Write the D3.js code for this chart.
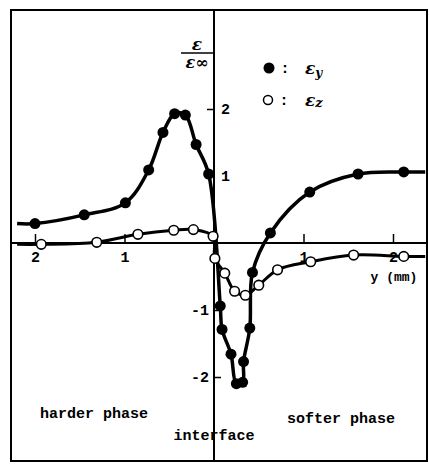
<!DOCTYPE html>
<html>
<head>
<meta charset="utf-8">
<script src="https://cdn.jsdelivr.net/npm/d3@7"></script>
<style>
  body { margin: 0; background: #fff; }
  svg { display: block; }
  .lbl { font-family: "Liberation Mono", "DejaVu Sans Mono", monospace; font-weight: bold; font-size: 15px; fill: #000; }
  .tick text { font-family: "Liberation Mono", monospace; font-weight: bold; font-size: 15px; fill: #000; }
  .eps { font-family: "DejaVu Serif", serif; font-style: italic; font-weight: bold; fill: #000; }
</style>
</head>
<body>
<svg id="chart" width="429" height="464"></svg>
<script>
// distance from interface (mm), negative = harder phase side
var posY = [-2.0, -1.45, -0.99, -0.73, -0.57, -0.44, -0.32, -0.20, -0.06, 0.07, 0.09, 0.19, 0.25, 0.32, 0.33, 0.40, 0.43, 0.63, 1.07, 1.61, 2.12];
var epsY = [0.29, 0.42, 0.60, 1.09, 1.65, 1.93, 1.91, 1.47, 1.03, -0.94, -1.29, -1.66, -2.10, -2.08, -1.77, -1.27, -0.44, 0.15, 0.76, 1.03, 1.06];

var posZ = [-1.93, -1.31, -0.85, -0.45, -0.23, -0.01, 0.01, 0.12, 0.23, 0.35, 0.50, 0.71, 1.08, 1.56, 2.12];
var epsZ = [-0.02, 0.01, 0.13, 0.19, 0.20, 0.10, -0.23, -0.45, -0.72, -0.78, -0.63, -0.40, -0.28, -0.18, -0.20];

var xTicks = [-2, -1, 1, 2];
var yTicksPos = [1, 2];
var yTicksNeg = [-1, -2];
var xRange = [-2.2, 2.36];   // how far the curves run out to either side

var svg = d3.select("#chart");

// scales (0 is the interface)
var x = d3.scaleLinear().domain([-2, 2]).range([35, 393]);
var y = d3.scaleLinear().domain([-2, 2]).range([377, 109]);

// frame
svg.append("rect")
    .attr("x", 11).attr("y", 10)
    .attr("width", 416).attr("height", 451)
    .attr("fill", "none")
    .attr("stroke", "#000")
    .attr("stroke-width", 2);

// horizontal axis, ticks point up, labels below
var gx = svg.append("g")
    .attr("transform", "translate(0," + y(0) + ")")
    .call(d3.axisTop(x).tickValues(xTicks).tickSize(9).tickFormat(function(d) { return Math.abs(d); }));
gx.select(".domain").remove();
gx.append("line")
    .attr("x1", 12).attr("x2", 427)
    .attr("stroke", "#000").attr("stroke-width", 2);
gx.selectAll(".tick line").attr("stroke-width", 1.5);
gx.selectAll(".tick text").attr("y", 19).attr("dy", null);

// vertical axis at the interface
var gy1 = svg.append("g")
    .attr("transform", "translate(" + x(0) + ",0)")
    .call(d3.axisLeft(y).tickValues(yTicksPos).tickSize(7).tickFormat(d3.format("d")));
gy1.select(".domain").remove();
gy1.selectAll(".tick line").attr("stroke-width", 1.5);
gy1.selectAll(".tick text").attr("x", 7).attr("text-anchor", "start");

var gy2 = svg.append("g")
    .attr("transform", "translate(" + x(0) + ",0)")
    .call(d3.axisRight(y).tickValues(yTicksNeg).tickSize(7).tickFormat(function(d) { return "-" + Math.abs(d); }));
gy2.select(".domain").remove();
gy2.selectAll(".tick line").attr("stroke-width", 1.5);
gy2.selectAll(".tick text").attr("x", -5).attr("text-anchor", "end");

svg.append("line")
    .attr("x1", x(0)).attr("x2", x(0))
    .attr("y1", 10).attr("y2", 461)
    .attr("stroke", "#000").attr("stroke-width", 2);

// curves
var line = d3.line()
    .x(function(d) { return x(d[0]); })
    .y(function(d) { return y(d[1]); })
    .curve(d3.curveCatmullRom.alpha(0.5));

function curvePts(px, py) {
  var pts = px.map(function(p, i) { return [p, py[i]]; });
  pts.unshift([xRange[0], py[0]]);
  pts.push([xRange[1], py[py.length - 1]]);
  return pts;
}

svg.append("path")
    .attr("d", line(curvePts(posZ, epsZ)))
    .attr("fill", "none")
    .attr("stroke", "#000")
    .attr("stroke-width", 3);

svg.append("path")
    .attr("d", line(curvePts(posY, epsY)))
    .attr("fill", "none")
    .attr("stroke", "#000")
    .attr("stroke-width", 3.5);

// markers
svg.append("g").selectAll("circle")
    .data(posZ)
  .enter().append("circle")
    .attr("cx", function(d) { return x(d); })
    .attr("cy", function(d, i) { return y(epsZ[i]); })
    .attr("r", 4.8)
    .attr("fill", "#fff")
    .attr("stroke", "#000")
    .attr("stroke-width", 1.6);

svg.append("g").selectAll("circle")
    .data(posY)
  .enter().append("circle")
    .attr("cx", function(d) { return x(d); })
    .attr("cy", function(d, i) { return y(epsY[i]); })
    .attr("r", 5.5)
    .attr("fill", "#000");

// y label: eps / eps_inf
svg.append("text").attr("class", "eps")
    .attr("x", 197).attr("y", 50)
    .attr("text-anchor", "middle")
    .style("font-size", "17px")
    .text("ε");
svg.append("line")
    .attr("x1", 181).attr("x2", 213)
    .attr("y1", 53).attr("y2", 53)
    .attr("stroke", "#000").attr("stroke-width", 1.5);
svg.append("text").attr("class", "eps")
    .attr("x", 197).attr("y", 68)
    .attr("text-anchor", "middle")
    .style("font-size", "16px")
    .text("ε∞");

// legend
svg.append("circle").attr("cx", 269).attr("cy", 68).attr("r", 5.5).attr("fill", "#000");
svg.append("circle").attr("cx", 268).attr("cy", 100).attr("r", 4.5)
    .attr("fill", "#fff").attr("stroke", "#000").attr("stroke-width", 1.5);
svg.append("text").attr("class", "lbl").attr("x", 285).attr("y", 73).attr("text-anchor", "middle").text(":");
svg.append("text").attr("class", "lbl").attr("x", 284).attr("y", 105).attr("text-anchor", "middle").text(":");

var ly = svg.append("text").attr("class", "eps").attr("x", 305).attr("y", 74).style("font-size", "17px");
ly.append("tspan").text("ε");
ly.append("tspan").attr("dy", 3).style("font-size", "12px").text("y");

var lz = svg.append("text").attr("class", "eps").attr("x", 305).attr("y", 106).style("font-size", "17px");
lz.append("tspan").text("ε");
lz.append("tspan").attr("dy", 1).style("font-size", "13px").text("z");

// annotations
svg.append("text").attr("class", "lbl").attr("x", 394).attr("y", 281).attr("text-anchor", "middle")
    .style("font-size", "13px").text("y (mm)");
svg.append("text").attr("class", "lbl").attr("x", 40).attr("y", 418).text("harder phase");
svg.append("text").attr("class", "lbl").attr("x", 214).attr("y", 440).attr("text-anchor", "middle").text("interface");
svg.append("text").attr("class", "lbl").attr("x", 287).attr("y", 423).text("softer phase");
</script>
</body>
</html>
